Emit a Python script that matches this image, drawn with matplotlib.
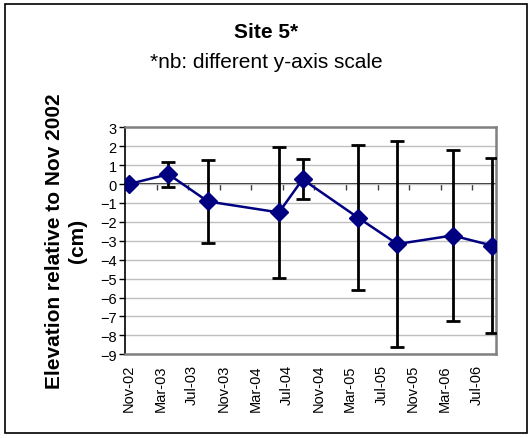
import matplotlib
matplotlib.use("Agg")
import matplotlib.pyplot as plt
import matplotlib.transforms as mtransforms
from matplotlib.patches import Rectangle
import pandas as pd

plt.rcParams['font.family'] = ['Liberation Sans', 'DejaVu Sans']

# survey months and elevation change (cm) with error bar half-widths
survey_months = ['2002-11', '2003-04', '2003-09', '2004-06', '2004-09',
                 '2005-04', '2005-09', '2006-04', '2006-09']
elevation = [0.0, 0.52, -0.92, -1.5, 0.25, -1.77, -3.17, -2.72, -3.25]
error = [0.0, 0.65, 2.2, 3.45, 1.05, 3.85, 5.45, 4.5, 4.63]

axis_start = '2002-11'
axis_end = '2006-10'
tick_step = 4

start = pd.Period(axis_start, freq='M')
def month_pos(m):
    # Excel-style month slots: each point sits in the middle of its month
    return (pd.Period(m, freq='M') - start).n

x = [month_pos(m) + 0.5 for m in survey_months]
n_months = month_pos(axis_end)
tick_pos = list(range(0, n_months, tick_step))
tick_labels = [(start + t).strftime('%b-%y') for t in tick_pos]

fig = plt.figure(figsize=(5.32, 4.39), dpi=100)
ax = fig.add_axes([125 / 532, 1 - 355.3 / 439, 371 / 532, 227 / 439])

ax.errorbar(x, elevation, yerr=error, color='#000080', lw=1.8,
            marker='D', markersize=9, markerfacecolor='#000080',
            markeredgecolor='#000080', ecolor='black', elinewidth=2,
            capsize=5, capthick=2, zorder=3)

ax.set_xlim(0, n_months)
ax.set_ylim(-9, 3)
ax.set_yticks(range(-9, 4))
ax.yaxis.grid(True, color='#c0c0c0', lw=1)
ax.set_axisbelow(True)

for s in ['top', 'right', 'bottom']:
    ax.spines[s].set_color('#808080')
    ax.spines[s].set_linewidth(1.8)
ax.spines['left'].set_color('black')
ax.spines['left'].set_linewidth(1.2)
ax.tick_params(axis='y', direction='out', length=4, width=1, labelsize=10.5, pad=2)

ax.set_xticks(tick_pos)
ax.set_xticklabels(tick_labels, rotation=90, fontsize=10.5)
ax.tick_params(axis='x', length=0, pad=7)
shift = mtransforms.ScaledTranslation(4 / 100, 0, fig.dpi_scale_trans)
for lab in ax.get_xticklabels():
    lab.set_transform(lab.get_transform() + shift)

# horizontal axis line crossing at zero, with tick marks but no labels
zax = ax.secondary_xaxis(0, transform=ax.transData)
zax.set_xticks(tick_pos)
zax.set_xticklabels([])
zax.spines['bottom'].set_color('black')
zax.spines['bottom'].set_linewidth(1.2)
zax.tick_params(direction='out', length=4, width=1, color='#404040')

fig.text(0.5, 1 - 33 / 439, 'Site 5*', ha='center', va='center',
         fontsize=15, fontweight='bold')
fig.text(0.5, 1 - 62 / 439, '*nb: different y-axis scale', ha='center',
         va='center', fontsize=15)
fig.text(66 / 532, 1 - 241 / 439, 'Elevation relative to Nov 2002\n(cm)',
         rotation=90, ha='center', va='center', multialignment='center',
         fontsize=15, fontweight='bold')

fig.patches.append(Rectangle((5 / 532, 5 / 439), 522 / 532, 429 / 439,
                             transform=fig.transFigure, fill=False,
                             edgecolor='black', lw=1.2))

fig.savefig('out.png', dpi=100)
